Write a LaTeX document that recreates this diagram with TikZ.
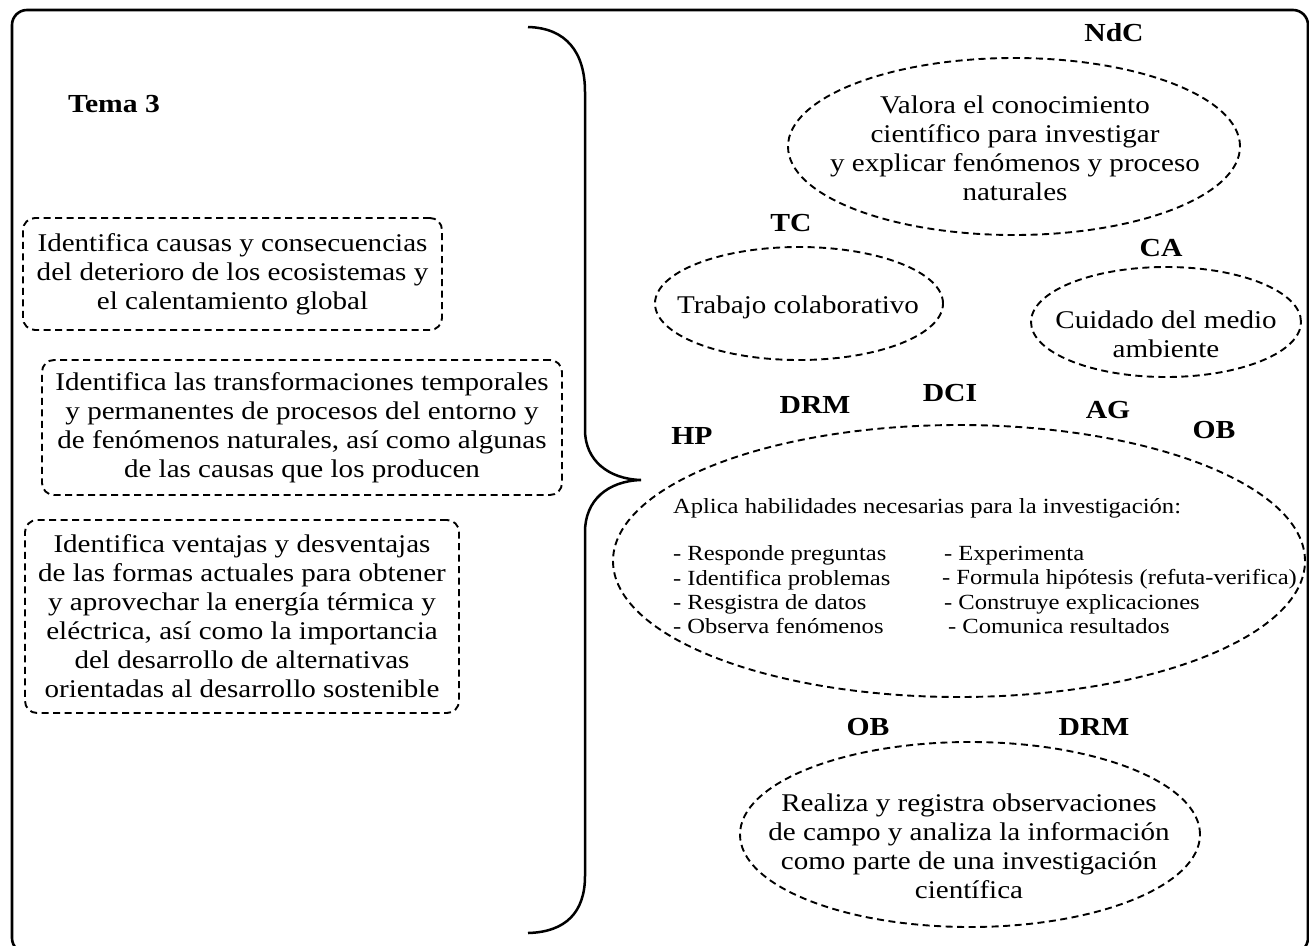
\documentclass[tikz,border=0pt]{standalone}
\usepackage{fontspec}
\setmainfont{Liberation Serif}[FakeStretch=1.14]
\usetikzlibrary{shapes.geometric}

\begin{document}
\begin{tikzpicture}[x=1pt,y=-1pt,
  every node/.style={inner sep=0pt, outer sep=0pt},
  frameline/.style={line width=2.6pt, rounded corners=15pt},
  braceline/.style={line width=2.5pt},
  dashbox/.style={draw, line width=1.9pt, dash pattern=on 7pt off 4.5pt, rounded corners=12pt},
  dashoval/.style={draw, ellipse, line width=1.9pt, dash pattern=on 7pt off 4.5pt},
  bodytext/.style={align=center, font=\fontsize{25.5}{29}\selectfont},
  listtext/.style={align=left, anchor=west, font=\fontsize{21.6}{24.3}\selectfont},
  tag/.style={font=\fontsize{26}{30}\selectfont\bfseries}
]
\useasboundingbox (0,0) rectangle (1309,945);

% outer frame, running past the lower edge of the page
\begin{scope}
  \clip (0,0) rectangle (1309,945);
  \draw[frameline] (12,10) rectangle (1308,953);
\end{scope}

% title
\node[tag, anchor=west] (tema) at (68,104) {Tema 3};

% left column of learning outcomes
\node[dashbox, bodytext, minimum width=419pt, minimum height=112pt] (b1) at (232.5,274)
  {Identifica causas y consecuencias\\del deterioro de los ecosistemas y\\el calentamiento global};
\node[dashbox, bodytext, minimum width=520pt, minimum height=135pt] (b2) at (302,427.5)
  {Identifica las transformaciones temporales\\y permanentes de procesos del entorno y\\de fenómenos naturales, así como algunas\\de las causas que los producen};
\node[dashbox, bodytext, minimum width=434pt, minimum height=193pt] (b3) at (242,616.5)
  {Identifica ventajas y desventajas\\de las formas actuales para obtener\\y aprovechar la energía térmica y\\eléctrica, así como la importancia\\del desarrollo de alternativas\\orientadas al desarrollo sostenible};

% curly brace
\coordinate (brtop) at (528,27);
\coordinate (brtip) at (641,480);
\coordinate (brbot) at (528,933);
\draw[braceline] (brtop) .. controls (566,28) and (585,52) .. (585,92) -- (585,430)
  .. controls (585,460) and (608,479) .. (brtip)
  .. controls (608,481) and (585,500) .. (585,532) -- (585,876)
  .. controls (585,912) and (566,932) .. (brbot);

% attitudes
\node[tag] (ndcl) at (1114,33) {NdC};
\node[dashoval, minimum width=452pt, minimum height=177pt] (ndc) at (1014,146.5) {};
\node[bodytext] (ndct) at (1015,148) {Valora el conocimiento\\científico para investigar\\y explicar fenómenos y proceso\\naturales};

\node[tag] (tcl) at (791,223) {TC};
\node[dashoval, minimum width=288pt, minimum height=113pt] (tc) at (799,303.5) {};
\node[bodytext] (tct) at (798,307) {Trabajo colaborativo};

\node[tag] (cal) at (1161,248) {CA};
\node[dashoval, minimum width=270pt, minimum height=110pt] (ca) at (1166,322) {};
\node[bodytext] (cat) at (1166,334) {Cuidado del medio\\ambiente};

% research skills
\node[tag] (hp)   at (692,436) {HP};
\node[tag] (drm1) at (815,405) {DRM};
\node[tag] (dci)  at (950,393) {DCI};
\node[tag] (ag)   at (1108,410) {AG};
\node[tag] (ob1)  at (1214,430) {OB};
\node[dashoval, minimum width=692pt, minimum height=272pt] (hab) at (959,561) {};
\node[listtext] (habt) at (673,508) {Aplica habilidades necesarias para la investigación:};
\node[listtext] (habl) at (673,590) {- Responde preguntas\\- Identifica problemas\\- Resgistra de datos\\- Observa fenómenos};
\node[listtext] (habr) at (942,590) {\hspace*{2pt}- Experimenta\\- Formula hipótesis (refuta-verifica)\\\hspace*{2pt}- Construye explicaciones\\\hspace*{6pt}- Comunica resultados};

% field observation
\node[tag] (ob2)  at (868,727) {OB};
\node[tag] (drm2) at (1094,727) {DRM};
\node[dashoval, minimum width=460pt, minimum height=185pt] (obs) at (970,834.5) {};
\node[bodytext] (obst) at (969,846) {Realiza y registra observaciones\\de campo y analiza la información\\como parte de una investigación\\científica};
\end{tikzpicture}
\end{document}
